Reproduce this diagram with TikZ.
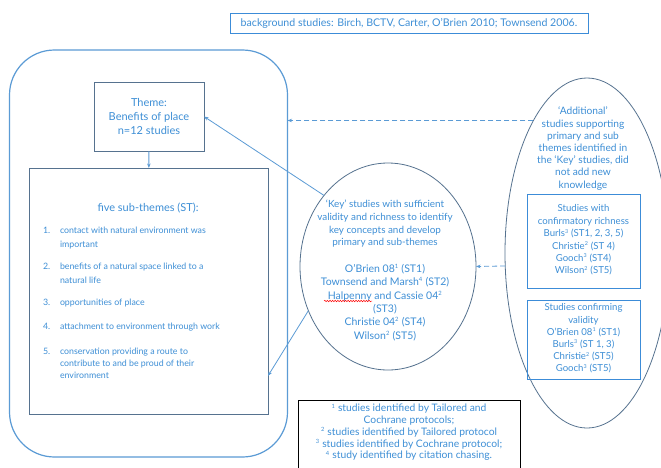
\documentclass[tikz,border=0pt]{standalone}
\usepackage{fontspec}
\setmainfont{Lato}
\usetikzlibrary{shapes.geometric,arrows.meta,calc,decorations.pathmorphing}
\definecolor{txt}{HTML}{3E8FD6}
\definecolor{frm}{HTML}{5B9BD5}
\definecolor{slate}{HTML}{56728F}
\definecolor{bbox}{HTML}{3C8CD8}
\newcommand{\sps}[1]{\textsuperscript{\scalebox{0.8}{#1}}}
\begin{document}
\begin{tikzpicture}[x=1pt,y=-1pt,
  every node/.style={text=txt, inner sep=0pt, outer sep=0pt},
  small/.style={align=center, font=\fontsize{8.6}{12.3}\selectfont},
  line/.style={anchor=west, text height=6pt, text depth=2pt, font=\fontsize{8.8}{12}\selectfont},
  arr/.style={draw=frm, line width=0.8pt, -{Stealth[length=4.5pt,width=3.5pt]}},
  darr/.style={arr, dash pattern=on 5pt off 3pt},
  oval/.style={ellipse, draw=slate, line width=0.8pt},
  blubox/.style={draw=bbox, line width=1pt}]
\useasboundingbox[fill=white] (0,0) rectangle (661,467);

% background studies
\node[blubox, minimum width=358pt, minimum height=20pt, font=\fontsize{10.6}{12}\selectfont] (bg) at (409,23)
  {background studies: Birch, BCTV, Carter, O’Brien 2010; Townsend 2006.};

% main frame
\node[draw=frm, line width=1.2pt, rounded corners=45pt, minimum width=278pt, minimum height=407pt] (frame) at (148.5,253.5) {};

% theme box
\node[draw=slate, line width=0.9pt, minimum width=110pt, minimum height=69pt, align=center,
  font=\fontsize{11}{14}\selectfont] (theme) at (149,116.5) {Theme:\\Benefits of place\\n=12 studies};

% sub-themes box
\node[draw=slate, line width=0.9pt, minimum width=239pt, minimum height=246pt] (sub) at (148.5,291) {};
\node[font=\fontsize{11}{12}\selectfont] (subt) at (148,208) {five sub-themes (ST):};
\node[line] (n1) at (43,231) {1.};
\node[line] (a1) at (60,231) {contact with natural environment was};
\node[line] (b1) at (60,245) {important};
\node[line] (n2) at (43,267) {2.};
\node[line] (a2) at (60,267) {benefits of a natural space linked to a};
\node[line] (b2) at (60,281) {natural life};
\node[line] (n3) at (43,303) {3.};
\node[line] (a3) at (60,303) {opportunities of place};
\node[line] (n4) at (43,327) {4.};
\node[line] (a4) at (60,327) {attachment to environment through work};
\node[line] (n5) at (43,352) {5.};
\node[line] (a5) at (60,352) {conservation providing a route to};
\node[line] (b5) at (60,364) {contribute to and be proud of their};
\node[line] (c5) at (60,376) {environment};

% key ellipse
\node[oval, minimum width=176pt, minimum height=207pt] (key) at (388,266.5) {};
\node[small, font=\fontsize{9.9}{12.7}\selectfont] (keyd) at (385,224)
  {‘Key’ studies with sufficient\\validity and richness to identify\\key concepts and develop\\primary and sub-themes};
\node[align=center, font=\fontsize{10.5}{13.4}\selectfont] (keyl) at (385,302.5)
  {O’Brien 08\sps{1} (ST1)\\Townsend and Marsh\sps{4} (ST2)\\Halpenny and Cassie 04\sps{2}\\(ST3)\\Christie 04\sps{2} (ST4)\\Wilson\sps{2} (ST5)};
\draw[red, line width=0.5pt, decorate, decoration={snake, amplitude=0.7pt, segment length=2.6pt}] (324,301) -- (372,301);

% additional ellipse
\node[oval, minimum width=164pt, minimum height=350pt] (add) at (587,253) {};
\node[small, font=\fontsize{10.2}{12.2}\selectfont] (addt) at (583,148.5)
  {‘Additional’\\studies supporting\\primary and sub\\themes identified in\\the ‘Key’ studies, did\\not add new\\knowledge};
\node[blubox, minimum width=113pt, minimum height=94pt] (rich) at (583.5,241) {};
\node[small, font=\fontsize{9.6}{12.4}\selectfont] (richt) at (583.5,240)
  {Studies with\\confirmatory richness\\Burls\sps{3} (ST1, 2, 3, 5)\\Christie\sps{2} (ST 4)\\Gooch\sps{3} (ST4)\\Wilson\sps{2} (ST5)};
\node[blubox, minimum width=113pt, minimum height=79pt] (valid) at (583.5,339.5) {};
\node[small, font=\fontsize{9.6}{12.2}\selectfont] (validt) at (583.5,338.5)
  {Studies confirming\\validity\\O’Brien 08\sps{1} (ST1)\\Burls\sps{3} (ST 1, 3)\\Christie\sps{2} (ST5)\\Gooch\sps{3} (ST5)};

% footnote box
\node[draw=black, line width=0.8pt, minimum width=222pt, minimum height=76pt] (foot) at (409,438) {};
\node[small, font=\fontsize{10.3}{11.75}\selectfont] (foott) at (409,432.5)
  {\sps{1} studies identified by Tailored and\\Cochrane protocols;\\\sps{2} studies identified by Tailored protocol\\\sps{3} studies identified by Cochrane protocol;\\\sps{4} study identified by citation chasing.};

% connectors
\draw[arr] (theme) -- (sub);
\draw[arr] (key.132) -- (theme.east);
\draw[arr] (key.209) -- ($(sub.north east)!0.845!(sub.south east)$);
\draw[darr] (add.112) -- (add.112 -| frame.east);
\draw[darr] (add.189) -- (key.east);
\end{tikzpicture}
\end{document}
